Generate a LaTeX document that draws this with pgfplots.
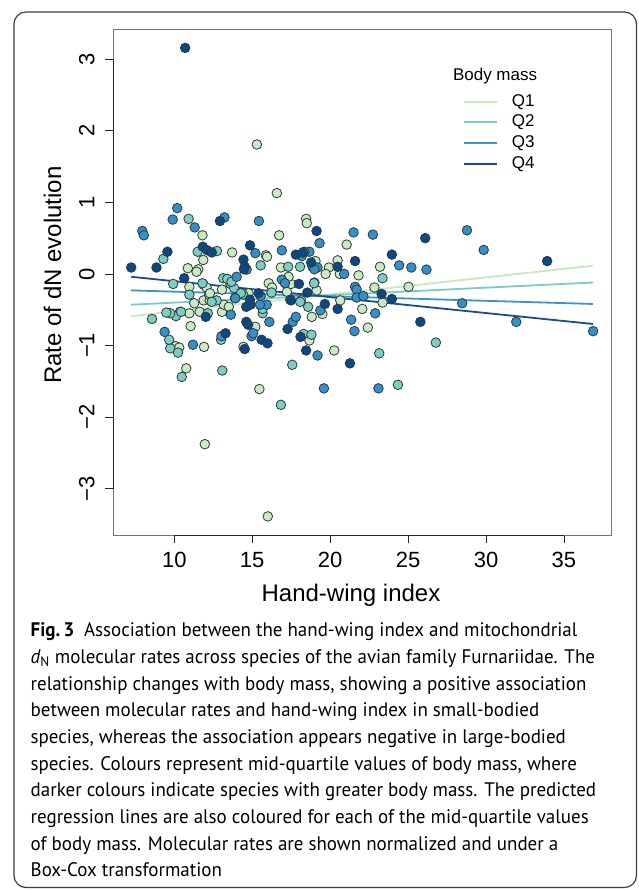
\documentclass[border=0pt]{standalone}
\usepackage{pgfplots}
\pgfplotsset{compat=1.18}
\usepackage{fontspec}
\setmainfont{Liberation Sans}
\newfontfamily\capfont[FakeStretch=0.968]{PT Sans}
\definecolor{q1}{HTML}{C9EAC3}
\definecolor{q2}{HTML}{7CCDC3}
\definecolor{q3}{HTML}{3390C8}
\definecolor{q4}{HTML}{0A4889}
\definecolor{l1}{HTML}{C7E9C0}
\definecolor{l2}{HTML}{7BCCC4}
\definecolor{l3}{HTML}{3C93CC}
\definecolor{l4}{HTML}{1A4D8F}
\definecolor{edge}{HTML}{2E3A3A}
\pgfplotstableread{
x y
15.3 1.81
16.58 1.13
18.46 0.77
18.5 0.71
11.81 0.54
16.73 0.54
10.87 0.08
11.54 0.065
11.43 0.03
11.86 0.195
13.71 0.30
15.88 0.26
15.95 0.24
16.84 0.09
19.06 0.18
19.92 0.09
20.48 0.19
21.06 0.41
19.71 0.0
20.62 0.0
21.82 -0.02
23.2 0.10
25.03 -0.18
22.84 -0.19
23.36 -0.40
20.26 -1.07
15.46 -1.61
11.96 -2.38
16.0 -3.39
10.77 -1.32
11.91 -1.02
10.08 -1.01
10.32 -1.03
11.05 -0.73
14.44 -1.02
18.67 -0.93
15.2 -0.74
22.42 -0.75
22.06 -0.49
20.65 -0.37
19.5 -0.56
18.82 -0.60
18.14 -0.37
17.23 -0.25
17.49 -0.14
19.13 -0.23
13.06 -0.53
11.63 -0.53
10.97 -0.55
10.37 -0.53
11.28 -0.41
11.88 -0.37
12.27 -0.37
13.18 -0.43
13.5 -0.46
10.97 -0.18
11.88 -0.15
12.07 -0.19
12.23 -0.29
13.06 -0.22
14.76 -0.27
16.06 -0.13
16.27 -0.19
12.29 -0.27
17.33 -0.04
18.99 -0.12
}\qone
\pgfplotstableread{
x y
10.92 0.77
9.3 0.21
9.93 -0.14
11.5 0.31
12.74 0.32
15.54 0.12
17.31 0.10
18.07 0.10
23.36 -0.06
26.78 -0.96
23.15 -1.11
17.57 -1.27
24.35 -1.55
16.84 -1.83
13.08 -1.35
10.48 -1.44
10.24 -1.10
9.74 -1.04
9.67 -0.92
8.57 -0.63
13.0 -0.92
18.3 -0.84
18.8 -0.85
18.59 -0.46
18.97 -0.13
15.67 -0.55
15.67 -0.49
12.15 -0.55
10.11 -0.59
9.74 -0.55
9.49 -0.54
12.72 -0.37
10.97 -0.29
13.6 -0.14
13.84 -0.20
14.42 -0.29
11.81 -0.13
13.14 -0.06
13.4 -0.07
13.67 -0.11
14.27 -0.27
16.24 -0.26
18.08 -0.39
12.4 -0.39
13.89 -0.34
10.43 -0.53
}\qtwo
\pgfplotstableread{
x y
10.19 0.92
9.9 0.76
11.31 0.65
13.22 0.79
15.43 0.74
19.32 0.43
7.95 0.60
8.05 0.54
21.5 0.58
22.74 0.55
28.78 0.61
29.85 0.335
15.2 0.29
14.6 0.065
16.9 0.33
18.67 0.31
18.87 0.10
19.19 0.09
20.9 0.0
24.43 0.12
25.21 0.09
26.18 0.06
21.6 -0.18
21.7 -0.22
28.47 -0.41
31.94 -0.67
36.87 -0.80
19.19 -1.14
19.6 -1.60
23.1 -1.60
11.2 -0.99
9.38 -0.81
14.96 -0.87
15.06 -0.83
17.6 -0.67
17.8 -0.60
16.1 -0.67
21.35 -0.64
21.56 -0.80
22.89 -0.55
19.37 -0.51
21.7 -0.33
22.13 -0.31
15.93 -0.43
13.63 -0.57
13.92 -0.34
15.54 -0.31
16.9 -0.08
14.0 -0.04
14.64 0.06
18.18 0.25
18.35 0.31
18.99 0.065
17.1 -0.13
17.44 -0.36
13.03 -0.87
15.5 -0.43
}\qthree
\pgfplotstableread{
x y
10.7 3.16
12.93 0.74
19.13 0.60
26.1 0.50
33.92 0.18
7.24 0.09
8.86 0.09
9.56 0.31
10.64 -0.06
11.83 0.38
12.12 0.33
12.41 0.30
14.86 0.40
14.44 0.2
14.52 0.10
17.8 0.27
18.25 0.30
20.48 0.10
21.6 0.18
23.96 0.27
23.3 -0.28
23.96 -0.35
25.79 -0.67
21.27 -1.25
18.46 -1.07
13.29 -0.83
14.52 -1.05
15.6 -0.92
15.98 -0.97
17.27 -0.77
18.1 -0.88
14.62 -0.67
14.74 -0.71
20.48 -0.49
19.66 -0.42
17.49 -0.37
18.0 -0.14
18.54 -0.26
14.89 -0.43
14.62 -0.46
12.02 -0.60
15.41 -0.27
14.47 0.065
18.78 0.16
14.85 -0.36
}\qfour
\begin{document}
\begin{tikzpicture}
\useasboundingbox (0pt,0pt) rectangle (638pt,-890pt);
\fill[white] (0pt,0pt) rectangle (638pt,-890pt);
\draw[rounded corners=12pt, draw=black!75, line width=1.2pt] (14pt,-12pt) rectangle (636.5pt,-887.5pt);
\begin{axis}[
  at={(113pt,-535pt)}, anchor=south west,
  width=498.5pt, height=505.7pt, scale only axis,
  xmin=6.07, xmax=38.05, ymin=-3.65, ymax=3.42,
  axis line style={draw=black!55, line width=0.8pt},
  xtick={10,15,20,25,30,35},
  ytick={-3,-2,-1,0,1,2,3},
  yticklabels={−3,−2,−1,0,1,2,3},
  xtick pos=bottom, ytick pos=left,
  tick align=outside, major tick length=8pt,
  tick style={draw=black!85, line width=0.8pt},
  /pgf/number format/assume math mode=true,
  tick label style={font=\fontsize{22}{26}\selectfont},
  xticklabel style={anchor=base, yshift=-24pt},
  yticklabel style={rotate=90, anchor=base, yshift=10.5pt},
  xlabel={Hand-wing index},
  ylabel={Rate of dN evolution},
  label style={font=\fontsize{24}{28}\selectfont},
  xlabel style={at={(axis description cs:0.4774,-0.1319)}, anchor=base},
  ylabel style={at={(axis description cs:-0.1043,0.514)}, anchor=base},
  clip=false,
]
\draw[black!85, line width=0.8pt] (axis cs:6.07,-3) -- (axis cs:6.07,3);
\draw[black!85, line width=0.8pt] (axis cs:10,-3.65) -- (axis cs:35,-3.65);
\addplot[only marks, mark=*, mark size=4.8pt, mark options={fill=q1, draw=edge, line width=0.8pt}] table {\qone};
\addplot[only marks, mark=*, mark size=4.8pt, mark options={fill=q2, draw=edge, line width=0.8pt}] table {\qtwo};
\addplot[only marks, mark=*, mark size=4.8pt, mark options={fill=q3, draw=edge, line width=0.8pt}] table {\qthree};
\addplot[only marks, mark=*, mark size=4.8pt, mark options={fill=q4, draw=edge, line width=0.8pt}] table {\qfour};
\addplot[l1, line width=1.8pt] coordinates {(7.24,-0.59) (36.87,0.115)};
\addplot[l2, line width=1.8pt] coordinates {(7.24,-0.43) (36.87,-0.12)};
\addplot[l3, line width=1.8pt] coordinates {(7.24,-0.23) (36.87,-0.42)};
\addplot[l4, line width=1.8pt] coordinates {(7.24,-0.04) (36.87,-0.70)};
\end{axis}
% legend
\node[anchor=west, font=\fontsize{17}{20}\selectfont, inner sep=0pt] at (452.8pt,-76pt) {Body mass};
\foreach \c/\t/\yy in {l1/Q1/101.7, l2/Q2/122.3, l3/Q3/142.7, l4/Q4/164}{
  \draw[\c, line width=1.8pt] (464pt,-\yy pt) -- (497pt,-\yy pt);
  \node[anchor=west, font=\fontsize{17}{20}\selectfont, inner sep=0pt] at (511.7pt,-\yy pt) {\t};
}
% caption
\begin{scope}[every node/.style={anchor=base west, inner sep=0pt, font=\capfont\fontsize{19.6}{26.67}\selectfont}]
\node at (30.5pt,-636.7pt) {\textbf{Fig.\,3}\hspace{0.5em}Association between the hand-wing index and mitochondrial};
\node at (30.5pt,-663.4pt) {{\itshape d}\textsubscript{N} molecular rates across species of the avian family Furnariidae. The};
\node at (30.5pt,-690.0pt) {relationship changes with body mass, showing a positive association};
\node at (30.5pt,-716.7pt) {between molecular rates and hand-wing index in small-bodied};
\node at (30.5pt,-743.4pt) {species, whereas the association appears negative in large-bodied};
\node at (30.5pt,-770.0pt) {species. Colours represent mid-quartile values of body mass, where};
\node at (30.5pt,-796.7pt) {darker colours indicate species with greater body mass. The predicted};
\node at (30.5pt,-823.4pt) {regression lines are also coloured for each of the mid-quartile values};
\node at (30.5pt,-850.0pt) {of body mass. Molecular rates are shown normalized and under a};
\node at (30.5pt,-876.7pt) {Box-Cox transformation};
\end{scope}
\end{tikzpicture}
\end{document}
